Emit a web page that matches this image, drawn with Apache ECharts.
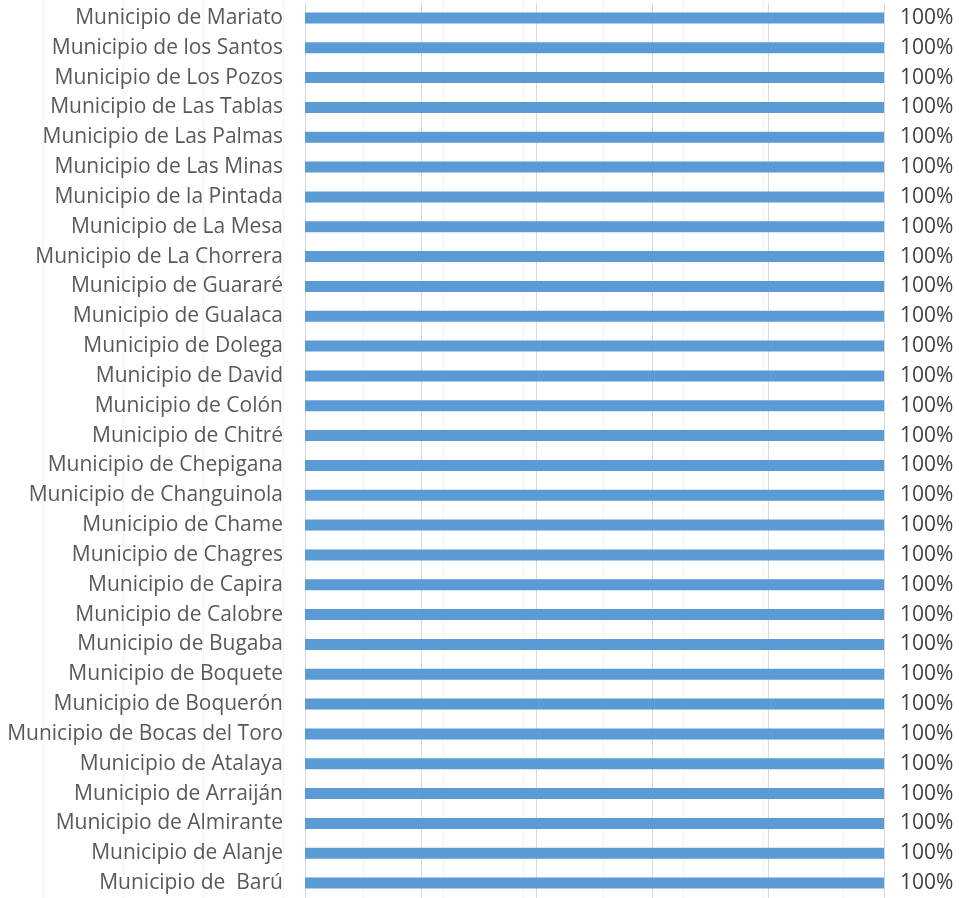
<!DOCTYPE html>
<html>
<head>
<meta charset="utf-8">
<script src="https://cdn.jsdelivr.net/npm/echarts@6/dist/echarts.min.js"></script>
<style>
html,body{margin:0;padding:0;background:#fff;}
#chart{width:959px;height:898px;}
</style>
</head>
<body>
<div id="chart"></div>
<script>
var categories = [
  "Municipio de  Barú",
  "Municipio de Alanje",
  "Municipio de Almirante",
  "Municipio de Arraiján",
  "Municipio de Atalaya",
  "Municipio de Bocas del Toro",
  "Municipio de Boquerón",
  "Municipio de Boquete",
  "Municipio de Bugaba",
  "Municipio de Calobre",
  "Municipio de Capira",
  "Municipio de Chagres",
  "Municipio de Chame",
  "Municipio de Changuinola",
  "Municipio de Chepigana",
  "Municipio de Chitré",
  "Municipio de Colón",
  "Municipio de David",
  "Municipio de Dolega",
  "Municipio de Gualaca",
  "Municipio de Guararé",
  "Municipio de La Chorrera",
  "Municipio de La Mesa",
  "Municipio de la Pintada",
  "Municipio de Las Minas",
  "Municipio de Las Palmas",
  "Municipio de Las Tablas",
  "Municipio de Los Pozos",
  "Municipio de los Santos",
  "Municipio de Mariato"
];
var values = [100,100,100,100,100,100,100,100,100,100,100,100,100,100,100,100,100,100,100,100,100,100,100,100,100,100,100,100,100,100];
var xTicks = [0, 20, 40, 60, 80, 100];

var chart = echarts.init(document.getElementById('chart'), null, {renderer: 'canvas'});
var font = '"Open Sans", Lato, sans-serif';
chart.setOption({
  animation: false,
  backgroundColor: '#ffffff',
  grid: [
    {left: 43, width: 800, top: 0, height: 898, containLabel: false},
    {left: 305, width: 579, top: 3, height: 900, containLabel: false}
  ],
  xAxis: [
    {gridIndex: 0, type: 'value', min: 0, max: 10, interval: 1,
     axisLabel: {show: false}, axisLine: {show: false}, axisTick: {show: false},
     splitLine: {show: true, lineStyle: {color: '#f3f3f3', width: 1}}},
    {gridIndex: 1, type: 'value', min: xTicks[0], max: xTicks[xTicks.length-1], interval: xTicks[1]-xTicks[0],
     axisLabel: {show: false}, axisLine: {show: false}, axisTick: {show: false},
     splitLine: {show: true, lineStyle: {color: '#d9d9d9', width: 1}}}
  ],
  yAxis: [
    {gridIndex: 0, type: 'category', data: ['a'], show: false},
    {gridIndex: 1, type: 'category', data: categories,
     axisLine: {show: true, lineStyle: {color: '#d9d9d9', width: 1}},
     axisTick: {show: false},
     axisLabel: {color: '#595959', fontSize: 21, fontFamily: font, margin: 22}}
  ],
  series: [{
    type: 'bar',
    xAxisIndex: 1, yAxisIndex: 1,
    data: values,
    barWidth: 11,
    itemStyle: {color: '#5b9bd5'},
    label: {show: true, position: 'right', distance: 16, color: '#404040', fontSize: 21, fontFamily: font,
            formatter: function(p){ return p.value + '%'; }}
  }]
});
</script>
</body>
</html>
